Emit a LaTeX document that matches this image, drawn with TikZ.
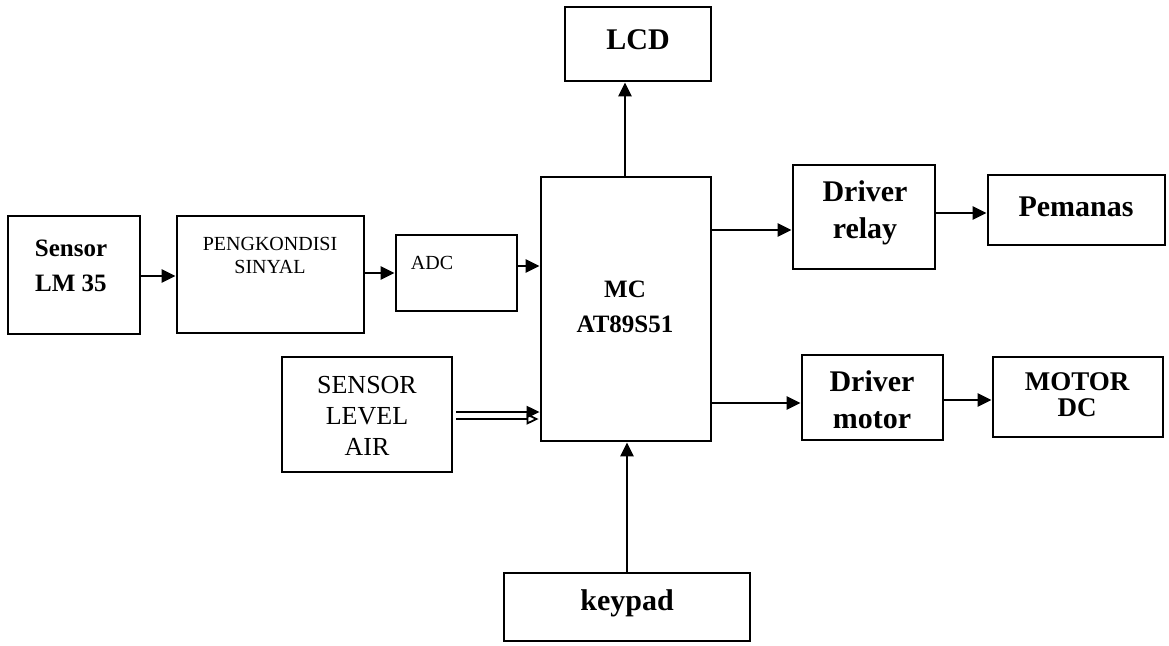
\documentclass[tikz,border=0pt]{standalone}
\usepackage{fontspec}
\setmainfont{Liberation Serif}
\usetikzlibrary{arrows.meta}
\begin{document}
\begin{tikzpicture}[x=1pt,y=-1pt,
  blk/.style={draw, line width=2.8pt, rectangle, inner sep=0pt},
  arr/.style={line width=2.6pt, -{Triangle[length=14pt,width=13pt]}},
  arrthin/.style={line width=2pt, -{Triangle[length=13pt,width=12pt]}},
  arropen/.style={line width=2pt, -{Triangle[open,length=12pt,width=11pt,line width=1.8pt]}},
  bigb/.style={font=\bfseries\fontsize{30}{37}\selectfont, align=center, inner sep=0pt},
  midb/.style={font=\bfseries\fontsize{25}{35}\selectfont, align=center, inner sep=0pt},
  smallr/.style={font=\fontsize{20}{23}\selectfont, align=center, inner sep=0pt},
  medr/.style={font=\fontsize{26}{31}\selectfont, align=center, inner sep=0pt}]
\useasboundingbox (0,0) rectangle (1169,645);

% boxes
\node[blk, minimum width=132pt, minimum height=118pt] (sensor) at (74,275) {};
\node[blk, minimum width=187pt, minimum height=117pt] (peng) at (270.5,274.5) {};
\node[blk, minimum width=121pt, minimum height=76pt] (adc) at (456.5,273) {};
\node[blk, minimum width=170pt, minimum height=264pt] (mc) at (626,309) {};
\node[blk, minimum width=146pt, minimum height=74pt] (lcd) at (638,44) {};
\node[blk, minimum width=142pt, minimum height=104pt] (relay) at (864,217) {};
\node[blk, minimum width=177pt, minimum height=70pt] (pemanas) at (1076.5,210) {};
\node[blk, minimum width=141pt, minimum height=85pt] (drvmotor) at (872.5,397.5) {};
\node[blk, minimum width=170pt, minimum height=80pt] (motordc) at (1078,397) {};
\node[blk, minimum width=170pt, minimum height=115pt] (sla) at (367,414.5) {};
\node[blk, minimum width=246pt, minimum height=68pt] (keypad) at (627,607) {};

% texts
\node[midb] (sensorT) at (71,266) {Sensor\\LM 35};
\node[smallr] (pengT) at (270,255) {PENGKONDISI\\SINYAL};
\node[smallr] (adcT) at (432,263) {ADC};
\node[midb] (mcT) at (625,307) {MC\\AT89S51};
\node[bigb] (lcdT) at (638,40) {LCD};
\node[bigb] (relayT) at (865,213) {Driver\\relay};
\node[bigb] (pemanasT) at (1076,207) {Pemanas};
\node[bigb] (drvmotorT) at (872,400) {Driver\\motor};
\node[font=\bfseries\fontsize{27}{26}\selectfont, align=center, inner sep=0pt] (motordcT) at (1077,395) {MOTOR\\DC};
\node[medr] (slaT) at (367,416) {SENSOR\\LEVEL\\AIR};
\node[bigb] (keypadT) at (627,603) {keypad};

% connectors
\draw[arr] (sensor.east |- 0,276) -- (peng.west |- 0,276);
\draw[arr] (peng.east |- 0,273) -- (adc.west |- 0,273);
\draw[arr] (adc.east |- 0,266) -- (mc.west |- 0,266);
\draw[arrthin] ([xshift=3pt]sla.east |- 0,412) -- (mc.west |- 0,412);
\draw[arropen] ([xshift=3pt]sla.east |- 0,419) -- ([xshift=-1pt]mc.west |- 0,419);
\draw[arr] (mc.north -| 625,0) -- (lcd.south -| 625,0);
\draw[arr] (mc.east |- 0,230) -- (relay.west |- 0,230);
\draw[arr] (relay.east |- 0,213) -- (pemanas.west |- 0,213);
\draw[arr] (mc.east |- 0,403) -- (drvmotor.west |- 0,403);
\draw[arr] (drvmotor.east |- 0,400) -- (motordc.west |- 0,400);
\draw[arr] (keypad.north) -- (mc.south -| keypad.north);
\end{tikzpicture}
\end{document}
